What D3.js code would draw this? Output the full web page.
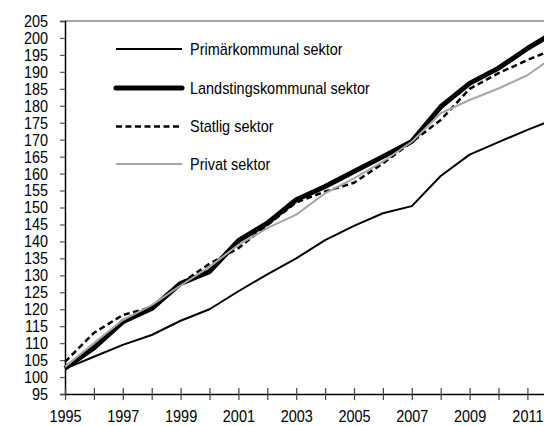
<!DOCTYPE html>
<html>
<head>
<meta charset="utf-8">
<script src="https://cdn.jsdelivr.net/npm/d3@7"></script>
<style>
  body { margin: 0; background: #fff; }
  svg text { font-family: "Liberation Sans", Arial, sans-serif; font-size: 17px; fill: #000; }
</style>
</head>
<body>
<div id="chart"></div>
<script>
// data
const years = d3.range(1995, 2013);
const primar    = [102.5, 106.0, 109.5, 112.4, 116.6, 120.0, 125.3, 130.3, 135.0, 140.4, 144.6, 148.3, 150.4, 159.3, 165.6, 169.3, 172.9, 176.2];
const landsting = [102.6, 108.6, 116.3, 120.2, 127.6, 131.1, 140.2, 145.4, 152.3, 156.2, 160.6, 165.0, 169.5, 179.7, 186.6, 191.1, 196.9, 202.0];
const statlig   = [104.5, 113.0, 118.3, 120.6, 127.6, 133.4, 138.0, 144.8, 151.5, 154.7, 157.3, 163.0, 169.3, 175.8, 185.0, 189.6, 193.5, 197.0];
const privat    = [103.0, 110.0, 116.8, 121.2, 127.0, 132.5, 139.0, 143.9, 147.9, 154.2, 158.6, 163.5, 169.4, 177.8, 181.7, 185.1, 189.0, 195.0];
const yTicks = d3.range(95, 206, 5);

const seriesNames = ["Primärkommunal sektor", "Landstingskommunal sektor", "Statlig sektor", "Privat sektor"];
const seriesValues = [primar, landsting, statlig, privat];
const seriesStyle = [
    {color: "#000", width: 2, dash: null},
    {color: "#000", width: 5, dash: null},
    {color: "#000", width: 2.5, dash: "6,3.5"},
    {color: "#a6a6a6", width: 2, dash: null}
];

// size
const W = 544, H = 426;
const svg = d3.select("#chart").append("svg")
    .attr("width", W)
    .attr("height", H);

// scales
const x = d3.scaleLinear()
    .domain([1995, 2012])
    .range([65, 65 + 28.9 * 17]);
const y = d3.scaleLinear()
    .domain([95, 205])
    .range([394, 21]);

// top border
svg.append("line")
    .attr("x1", 65).attr("x2", W)
    .attr("y1", y(205)).attr("y2", y(205))
    .attr("stroke", "#888")
    .attr("stroke-width", 1.5);

// y axis
const yAxis = d3.axisLeft(y)
    .tickValues(yTicks)
    .tickSize(5)
    .tickPadding(12)
    .tickFormat(d3.format("d"));
const gy = svg.append("g")
    .attr("transform", "translate(65,0)")
    .call(yAxis);
gy.select(".domain").attr("stroke", "#000").attr("stroke-width", 1.5);
gy.selectAll(".tick line").attr("stroke", "#555").attr("stroke-width", 1.2);
gy.attr("font-size", null).attr("font-family", null);

// x axis
const xAxis = d3.axisBottom(x)
    .tickValues(years)
    .tickSize(6)
    .tickSizeOuter(0)
    .tickPadding(10)
    .tickFormat(d => (d - 1995) % 2 === 0 ? String(d) : "");
const gx = svg.append("g")
    .attr("transform", "translate(0," + y(95) + ")")
    .call(xAxis);
gx.select(".domain").attr("stroke", "#000").attr("stroke-width", 1.5);
gx.selectAll(".tick line").attr("y1", -6).attr("stroke", "#444").attr("stroke-width", 1.2);
gx.attr("font-size", null).attr("font-family", null);

// lines
const line = d3.line()
    .x((d, i) => x(years[i]))
    .y(d => y(d));

seriesValues.forEach(function (vals, k) {
    const s = seriesStyle[k];
    svg.append("path")
        .datum(vals)
        .attr("fill", "none")
        .attr("stroke", s.color)
        .attr("stroke-width", s.width)
        .attr("stroke-dasharray", s.dash)
        .attr("stroke-linejoin", "round")
        .attr("d", line);
});

// legend
const legend = svg.append("g");
const legendY = [49, 88, 126.5, 164];
seriesNames.forEach(function (name, k) {
    const s = seriesStyle[k];
    legend.append("line")
        .attr("x1", 116).attr("x2", 182)
        .attr("y1", legendY[k]).attr("y2", legendY[k])
        .attr("stroke", s.color)
        .attr("stroke-width", s.width)
        .attr("stroke-dasharray", s.dash)
        .attr("stroke-linecap", k === 1 ? "round" : "butt");
    legend.append("text")
        .attr("x", 190)
        .attr("y", legendY[k])
        .attr("dy", "0.35em")
        .text(name);
});

// narrow the text, the original uses a condensed face
svg.selectAll("text").each(function () {
    const len = this.getComputedTextLength();
    if (len > 0) {
        d3.select(this)
            .attr("textLength", len * 0.85)
            .attr("lengthAdjust", "spacingAndGlyphs");
    }
});
</script>
</body>
</html>
